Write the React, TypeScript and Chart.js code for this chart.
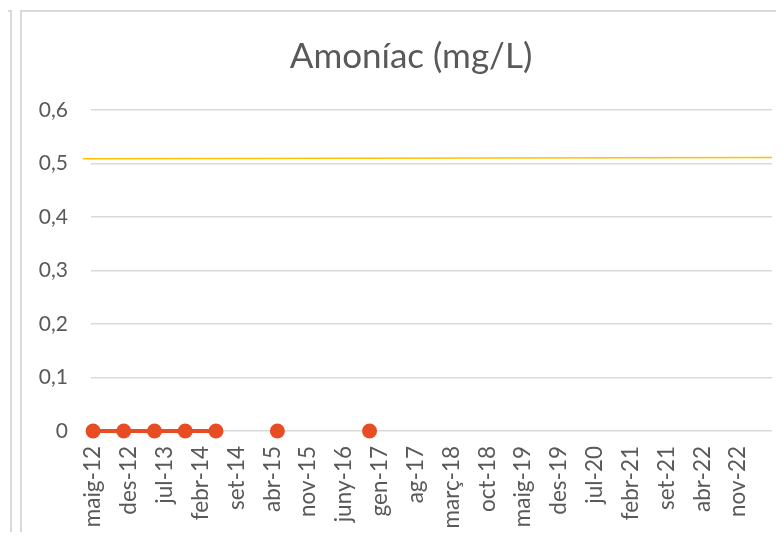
import React, { useEffect, useRef } from 'react';
import { Chart, registerables } from 'chart.js';

Chart.register(...registerables);

const MONTHS = ['gen', 'febr', 'març', 'abr', 'maig', 'juny', 'jul', 'ag', 'set', 'oct', 'nov', 'des'];

const tickLabels = [
  'maig-12', 'des-12', 'jul-13', 'febr-14', 'set-14', 'abr-15', 'nov-15', 'juny-16', 'gen-17',
  'ag-17', 'març-18', 'oct-18', 'maig-19', 'des-19', 'jul-20', 'febr-21', 'set-21', 'abr-22', 'nov-22',
];

const sampleDates = ['maig-12', 'nov-12', 'maig-13', 'nov-13', 'maig-14', 'nov-14', 'maig-15', 'nov-15', 'maig-16', 'nov-16'];
const ammonia: (number | null)[] = [0, 0, 0, 0, 0, null, 0, null, null, 0];

const limitDates = ['març-12', 'juny-23'];
const limitValues = [0.509, 0.511];

const TITLE = 'Amoníac (mg/L)';
const FONT = 'Lato, "Open Sans", sans-serif';
const TEXT = '#595959';

function monthIndex(label: string): number {
  const [m, y] = label.split('-');
  return (2000 + Number(y)) * 12 + MONTHS.indexOf(m);
}
const ORIGIN = monthIndex(tickLabels[0]);
const toX = (label: string) => monthIndex(label) - ORIGIN;

export default function App() {
  const ref = useRef<HTMLCanvasElement>(null);

  useEffect(() => {
    if (!ref.current) return;
    const chart = new Chart(ref.current, {
      type: 'line',
      data: {
        datasets: [
          {
            label: 'Amoníac',
            data: sampleDates.map((d, i) => ({ x: toX(d), y: ammonia[i] })),
            borderColor: '#E84C22',
            backgroundColor: '#E84C22',
            borderWidth: 4,
            pointRadius: 7.5,
            pointBorderWidth: 0,
            pointBackgroundColor: '#E84C22',
            spanGaps: false,
            clip: false,
          } as any,
          {
            label: 'Límit',
            data: limitDates.map((d, i) => ({ x: toX(d), y: limitValues[i] })),
            borderColor: '#FFC000',
            borderWidth: 1.5,
            pointRadius: 0,
            clip: { left: 15, right: 0, top: 5, bottom: 5 },
          } as any,
        ],
      },
      options: {
        animation: false,
        responsive: false,
        devicePixelRatio: 1,
        layout: { padding: { left: 20, right: 0, top: 0, bottom: 0 } },
        plugins: {
          legend: { display: false },
          tooltip: { enabled: false },
          title: {
            display: true,
            text: TITLE,
            color: TEXT,
            font: { family: FONT, size: 35, weight: 'normal' as any, lineHeight: 1.2 },
            padding: { top: 36, bottom: 32 },
          },
        },
        scales: {
          x: {
            type: 'linear',
            min: -0.4,
            max: 132.6,
            grid: { display: false, drawTicks: false },
            border: { display: false },
            afterBuildTicks: (scale: any) => {
              scale.ticks = tickLabels.map((l) => ({ value: toX(l) }));
            },
            afterFit: (scale: any) => {
              scale.height = 109;
            },
            ticks: {
              autoSkip: false,
              minRotation: 90,
              maxRotation: 90,
              padding: 15,
              color: TEXT,
              font: { family: FONT, size: 22.5 },
              callback: (_v: any, i: number) => tickLabels[i],
            },
          } as any,
          y: {
            min: 0,
            max: 0.6,
            grid: { color: '#d9d9d9', lineWidth: 1.5, drawTicks: false },
            border: { display: false },
            afterFit: (scale: any) => {
              scale.width = 71;
            },
            ticks: {
              stepSize: 0.1,
              padding: 23,
              color: TEXT,
              font: { family: FONT, size: 21 },
              callback: (v: any) => String(Number(Number(v).toFixed(1))).replace('.', ','),
            },
          } as any,
          spacer: {
            type: 'linear',
            position: 'right',
            display: true,
            grid: { display: false, drawTicks: false },
            border: { display: false },
            ticks: { display: false },
            afterFit: (scale: any) => {
              scale.width = 30;
            },
          } as any,
        },
      },
    });
    return () => chart.destroy();
  }, []);

  return (
    <div style={{ position: 'relative', width: 784, height: 540, margin: -8, overflow: 'hidden', background: '#fff' }}>
      <div style={{ position: 'absolute', left: -100, top: 10, width: 108, height: 700, border: '2px solid #d9d9d9' }} />
      <div style={{ position: 'absolute', left: 20, top: 10, width: 900, height: 700, border: '2px solid #d9d9d9' }} />
      <canvas ref={ref} width={802} height={540} style={{ position: 'absolute', left: 0, top: 0, width: 802, height: 540 }} />
    </div>
  );
}
